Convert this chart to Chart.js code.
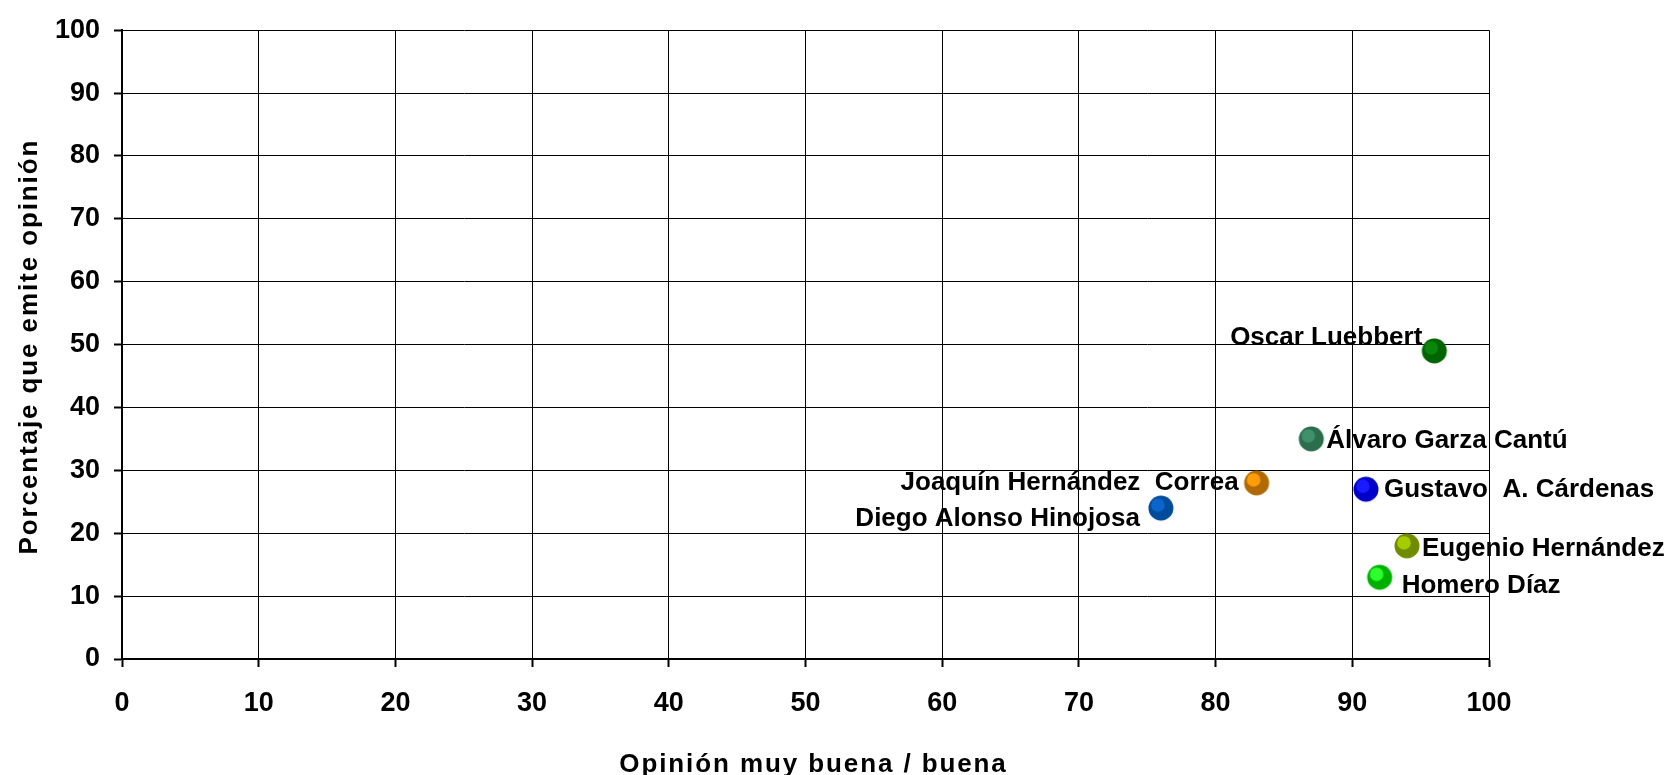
<!DOCTYPE html>
<html>
<head>
<meta charset="utf-8">
<script src="https://cdn.jsdelivr.net/npm/chart.js@4"></script>
<style>
  html, body { margin: 0; padding: 0; background: #fff; }
  #wrap { width: 1677px; height: 775px; }
</style>
</head>
<body>
<div id="wrap"><canvas id="scatter"></canvas></div>
<script>
// candidates and their values
const names = ['Oscar Luebbert', '\u00c1lvaro Garza Cant\u00fa', 'Joaqu\u00edn Hern\u00e1ndez  Correa',
  'Gustavo  A. C\u00e1rdenas', 'Eugenio Hern\u00e1ndez', 'Homero D\u00edaz', 'Diego Alonso Hinojosa'];
const opinionBuena = [96, 87, 83, 91, 94, 92, 76];
const emiteOpinion = [49, 35, 28, 27, 18, 13, 24];
const tickValues = [0, 10, 20, 30, 40, 50, 60, 70, 80, 90, 100];

// marker colours (outer ring, lighter highlight)
const outerColors = ['#006400', '#2b6d4d', '#b06a00', '#0000c8', '#6f8c00', '#00b000', '#004c9c'];
const innerColors = ['#0a870a', '#3e916a', '#ff9c0a', '#1a1aff', '#a6cc00', '#2cff2c', '#0a66cc'];

// label placement relative to each marker: [align, dx, dy]
const labelPlace = [
  ['right', -12, -13],
  ['left', 15, 2],
  ['right', -18, 0],
  ['left', 18, 1],
  ['left', 15, 3],
  ['left', 22, 9],
  ['right', -21, 11]
];

const FONT = 'Arial, "Liberation Sans", sans-serif';

function makeDot(outer, inner) {
  const c = document.createElement('canvas');
  c.width = 28; c.height = 28;
  const g = c.getContext('2d');
  g.fillStyle = outer;
  g.beginPath(); g.arc(14, 14, 12.5, 0, Math.PI * 2); g.fill();
  g.fillStyle = inner;
  g.beginPath(); g.arc(11, 11, 6.8, 0, Math.PI * 2); g.fill();
  return c;
}
const dots = outerColors.map((c, i) => makeDot(c, innerColors[i]));

const pointLabels = {
  id: 'pointLabels',
  afterDatasetsDraw(chart) {
    const ctx = chart.ctx;
    const meta = chart.getDatasetMeta(0);
    ctx.save();
    ctx.font = 'bold 26px ' + FONT;
    ctx.fillStyle = '#000';
    ctx.textBaseline = 'middle';
    meta.data.forEach((pt, i) => {
      const [align, dx, dy] = labelPlace[i];
      ctx.textAlign = align;
      ctx.fillText(names[i], pt.x + dx, pt.y + dy);
    });
    ctx.restore();
  }
};

// axis titles are slightly spaced out in the original, so draw them by hand
const axisTitles = {
  id: 'axisTitles',
  afterDraw(chart) {
    const ctx = chart.ctx;
    const area = chart.chartArea;
    ctx.save();
    ctx.font = 'bold 26px ' + FONT;
    ctx.fillStyle = '#000';
    ctx.textAlign = 'center';
    ctx.textBaseline = 'middle';
    ctx.letterSpacing = '1.9px';
    ctx.fillText('Opini\u00f3n muy buena / buena', (area.left + area.right) / 2 + 8, 765);
    ctx.translate(30, (area.top + area.bottom) / 2 + 2);
    ctx.rotate(-Math.PI / 2);
    ctx.fillText('Porcentaje que emite opini\u00f3n', 0, 0);
    ctx.restore();
  }
};

const ctx = document.getElementById('scatter');

const chart = new Chart(ctx, {
  type: 'scatter',
  data: {
    datasets: [{
      label: '',
      data: opinionBuena.map((x, i) => ({ x: x, y: emiteOpinion[i] })),
      pointStyle: dots,
      pointRadius: 12,
      pointHoverRadius: 12
    }]
  },
  options: {
    responsive: true,
    maintainAspectRatio: false,
    animation: false,
    layout: { padding: { top: 24, right: 188, left: 0, bottom: 0 } },
    plugins: {
      legend: { display: false },
      tooltip: { enabled: false }
    },
    scales: {
      x: {
        type: 'linear',
        min: 0,
        max: 100,
        afterBuildTicks: axis => { axis.ticks = tickValues.map(v => ({ value: v })); },
        ticks: {
          color: '#000',
          padding: 20,
          maxRotation: 0,
          font: { family: FONT, size: 27, weight: 'bold' }
        },
        grid: { color: '#000', lineWidth: 1, tickColor: '#000', tickWidth: 2, tickLength: 8 },
        border: { color: '#000', width: 2 },
        afterFit: s => { s.height = 116; }
      },
      y: {
        type: 'linear',
        min: 0,
        max: 100,
        afterBuildTicks: axis => { axis.ticks = tickValues.map(v => ({ value: v })); },
        ticks: {
          color: '#000',
          padding: 14,
          font: { family: FONT, size: 27, weight: 'bold' }
        },
        grid: { color: '#000', lineWidth: 1, tickColor: '#000', tickWidth: 2, tickLength: 8 },
        border: { color: '#000', width: 2 },
        afterFit: s => { s.width = 122; }
      }
    }
  },
  plugins: [pointLabels, axisTitles]
});
</script>
</body>
</html>
